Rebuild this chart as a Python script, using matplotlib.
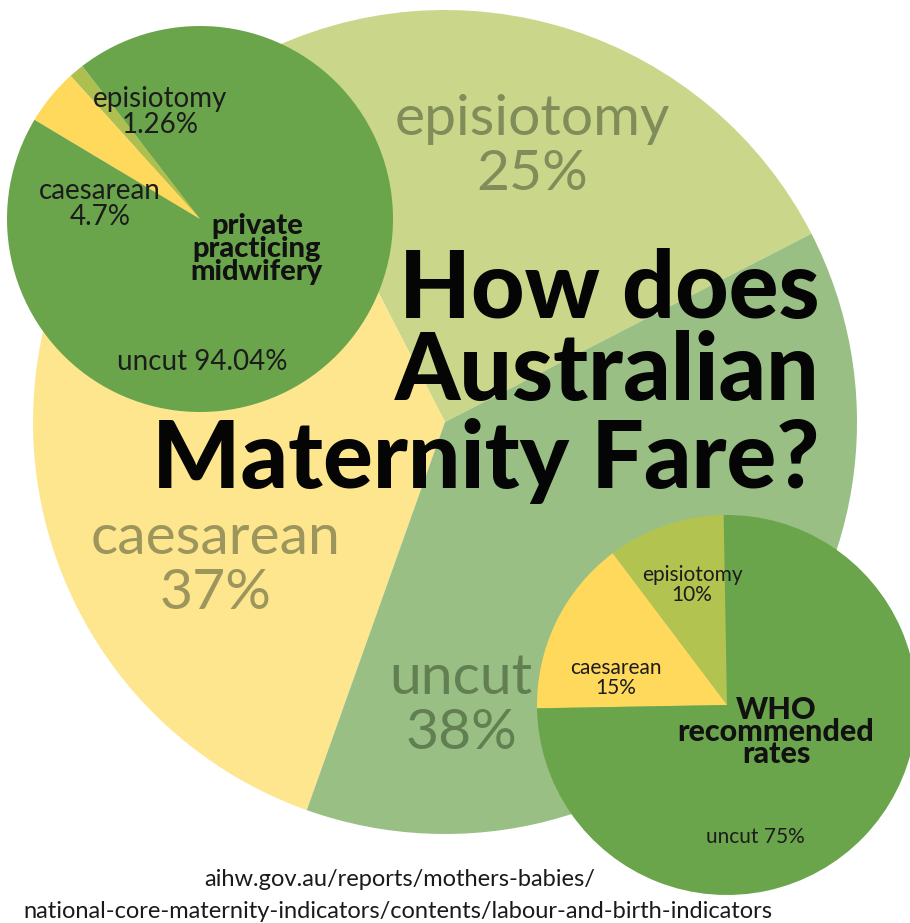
import matplotlib
matplotlib.use("Agg")
import matplotlib.pyplot as plt

# data
labels = ["episiotomy", "caesarean", "uncut"]
australia = [25, 37, 38]
private_midwifery = [1.26, 4.7, 94.04]
who_rates = [10, 15, 75]

W, H = 910, 923
fig = plt.figure(figsize=(W / 100, H / 100), dpi=100)
ax = fig.add_axes([0, 0, 1, 1])


def Y(y):
    # image rows -> data y (y goes up)
    return H - y


no_edge = dict(linewidth=0)

# big pie: all Australian births
ax.pie(australia, colors=["#cad78a", "#fde68e", "#99bf85"], startangle=27.2,
       counterclock=True, center=(445, Y(422)), radius=412, wedgeprops=no_edge)

# top-left: private practicing midwifery
ax.pie(private_midwifery, colors=["#adc04f", "#fed95b", "#6aa54b"], startangle=127.6,
       center=(200, Y(219)), radius=193, wedgeprops=no_edge)

# bottom-right: WHO recommended rates
ax.pie(who_rates, colors=["#b2c34f", "#fed95b", "#6aa54b"], startangle=91,
       center=(727, Y(705)), radius=190, wedgeprops=no_edge)

ax.set_xlim(0, W)
ax.set_ylim(0, H)
ax.set_aspect("auto")
ax.axis("off")

light = dict(family="Lato", weight="normal", ha="center", va="center")
bold = dict(family="Lato", weight="black", ha="center", va="center", color="#111111")

# big pie labels
ax.text(532, Y(147), f"{labels[0]}\n{australia[0]}%", fontsize=41, color="#808d5b",
        linespacing=1.1, **light)
ax.text(216, Y(566), f"{labels[1]}\n{australia[1]}%", fontsize=41, color="#9d965c",
        linespacing=1.1, **light)
ax.text(461, Y(706), f"{labels[2]}\n{australia[2]}%", fontsize=41, color="#617f50",
        linespacing=1.1, **light)

# private midwifery labels
ax.text(160, Y(112), f"{labels[0]}\n{private_midwifery[0]}%", fontsize=20,
        color="#1c1c1c", linespacing=1.0, **light)
ax.text(100, Y(204), f"{labels[1]}\n{private_midwifery[1]}%", fontsize=20,
        color="#1c1c1c", linespacing=1.0, **light)
ax.text(202, Y(362), f"{labels[2]} {private_midwifery[2]:.2f}%", fontsize=20,
        color="#1c1c1c", **light)
ax.text(257, Y(249), "private\npracticing\nmidwifery", fontsize=21,
        linespacing=0.85, **bold)

# WHO labels
ax.text(692, Y(585), f"{labels[0]}\n{who_rates[0]}%", fontsize=15,
        color="#1c1c1c", linespacing=1.0, **light)
ax.text(616, Y(678), f"{labels[1]}\n{who_rates[1]}%", fontsize=15,
        color="#1c1c1c", linespacing=1.0, **light)
ax.text(755, Y(837), f"{labels[2]} {who_rates[2]}%", fontsize=15,
        color="#1c1c1c", **light)
ax.text(776, Y(732), "WHO\nrecommended\nrates", fontsize=22,
        linespacing=0.72, **bold)

# title
title = ["How does", "Australian", "Maternity Fare?"]
for line, base in zip(title, [318, 400, 488]):
    ax.text(820, Y(base), line, fontsize=67, family="Lato", weight="black",
            color="#050505", ha="right", va="baseline")

# source
ax.text(400, Y(879), "aihw.gov.au/reports/mothers-babies/", fontsize=17,
        family="Lato", color="#1a1a1a", ha="center", va="center")
ax.text(398, Y(911),
        "national-core-maternity-indicators/contents/labour-and-birth-indicators",
        fontsize=17, family="Lato", color="#1a1a1a", ha="center", va="center")

fig.savefig("out.png", dpi=100, facecolor="white")
